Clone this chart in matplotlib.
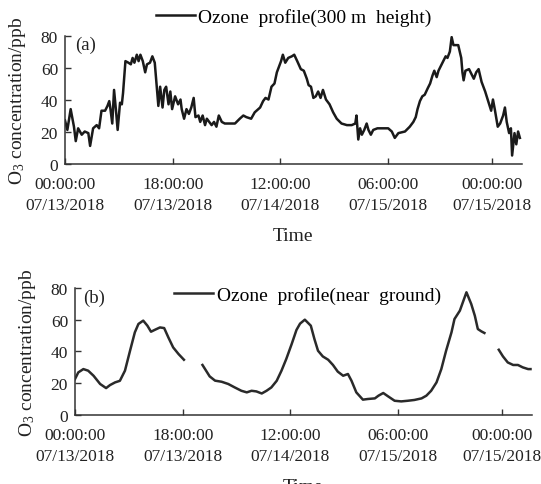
"""
Ozone profile comparison: 300 m height vs near ground, 07/13-07/16 2018.
"""
import numpy as np
import matplotlib

matplotlib.use("Agg")
import matplotlib.pyplot as plt

nan = np.nan

# (a) ozone at 300 m height, time in hours since 00:00 07/13/2018
hours_300m = [
    0.0, 0.4, 0.95, 1.5, 1.8, 2.2, 2.8, 3.3, 3.9, 4.2, 4.7, 5.3, 5.7, 6.1, 6.7,
    7.1, 7.4, 7.6, 7.9, 8.2, 8.5, 8.8, 9.2, 9.5, 9.7, 10.1, 10.6, 11.0, 11.3,
    11.6, 12.0, 12.3, 12.6, 13.0, 13.4, 13.7, 14.2, 14.6, 15.0, 15.4, 15.6,
    15.9, 16.3, 16.6, 16.9, 17.3, 17.6, 17.9, 18.4, 18.9, 19.3, 19.5, 19.9,
    20.3, 20.7, 21.1, 21.5, 21.8, 22.3, 22.6, 23.0, 23.4, 23.7, 24.1, 24.5,
    24.9, 25.3, 25.7, 26.2, 26.7, 27.5, 28.4, 29.2, 29.8, 30.3, 31.1, 31.7,
    32.6, 33.1, 33.5, 34.0, 34.5, 35.0, 35.4, 35.8, 36.1, 36.4, 36.8, 37.3,
    37.9, 38.3, 38.8, 39.4, 39.9, 40.4, 40.7, 41.1, 41.5, 41.9, 42.3, 42.7,
    43.1, 43.6, 44.2, 44.8, 45.4, 46.2, 47.1, 47.9, 48.5, 48.7, 49.0, 49.3,
    49.6, 50.0, 50.4, 50.7, 51.1, 51.5, 52.2, 53.1, 54.0, 54.6, 55.1, 55.7,
    56.8, 57.6, 58.2, 58.6, 58.9, 59.3, 59.7, 60.1, 60.6, 61.0, 61.4, 61.7,
    62.1, 62.4, 62.8, 63.2, 63.6, 63.9, 64.3, 64.6, 64.9, 65.7, 66.2, 66.4,
    66.6, 66.9, 67.5, 67.9, 68.3, 68.7, 69.1, 69.6, 70.2, 70.7, 71.2, 71.5,
    71.8, 72.3, 72.7, 73.2, 73.5, 73.8, 74.2, 74.5, 74.7, 75.1, 75.4, 75.7,
    76.0,
]
ozone_300m = [
    27, 21, 34, 23, 14, 22, 18, 20, 19, 11, 22, 24, 22, 33, 33,
    36, 39, 34, 25, 46, 34, 21, 38, 37, 44, 64, 63, 62, 66,
    63, 68, 64, 68, 64, 57, 62, 63, 67, 63, 45, 36,
    48, 35, 46, 48, 37, 45, 34, 42, 37, 40, 34, 28,
    34, 31, 35, 41, 29, 30, 26, 30, 24, 28, 26, 24,
    26, 23, 30, 26, 25, 25, 25, 28, 30, 29, 28, 32,
    35, 39, 41, 40, 48, 50, 57, 61, 64, 68, 63, 66,
    67, 68, 64, 59, 58, 53, 49, 48, 41, 42, 45, 41,
    46, 40, 37, 32, 28, 25, 24, 24, 25, 30, 15, 22,
    18, 21, 25, 21, 18, 21, 22, 22, 22, 20, 16, 19,
    20, 23, 26, 29, 34, 39, 42, 43, 47, 50, 55, 58,
    54, 58, 61, 64, 67, 66, 70, 79, 74, 74, 66, 57,
    52, 58, 59, 56, 53, 57, 59, 51, 45, 39, 33, 40,
    34, 23, 25, 30, 35, 26, 19, 22, 5, 19, 12, 20,
    16,
]

# (b) ozone near ground (nan marks missing data)
hours_ground = [
    0.0, 0.55, 1.4, 2.2, 3.1, 4.2, 5.2, 5.85, 6.7, 7.5, 8.35, 9.2, 10.0, 10.6,
    11.4, 12.1, 12.7, 13.4, 14.2, 14.9, 15.6, 16.4, 17.3, 18.2, 19.7,
    21.3, 22.0, 22.5, 23.4, 24.5, 25.6, 26.7, 27.8, 28.7, 29.5, 30.3, 31.2,
    32.0, 32.8, 33.7, 34.5, 35.3, 36.2, 37.0, 37.6, 38.4, 39.4, 40.0, 40.6,
    41.4, 42.3, 43.1, 43.9, 44.8, 45.6, 46.2, 47.0, 48.1, 48.9, 50.1, 50.7,
    51.5, 52.3, 53.4, 54.5, 55.6, 56.7, 57.9, 58.7, 59.5, 60.4, 61.2, 62.0,
    62.9, 63.4, 64.3, 65.4, 66.2, 66.8, 67.3, 67.9, 68.4, 69.6,
    70.8, 71.5, 72.3, 73.2, 74.0, 74.8, 75.7, 76.1,
]
ozone_ground = [
    22.5, 26.7, 28.8, 27.8, 24.6, 19.4, 16.8, 18.7, 20.4, 21.4, 27.8, 40.4, 52, 57.3,
    59.4, 56.2, 52.4, 53.7, 55.1, 54.7, 48.8, 42.5, 38.3, 34.7, nan,
    31.4, 27.2, 24.2, 21.5, 20.8, 19.4, 17.2, 15.1, 14.1, 15.1, 14.7, 13.4,
    15.1, 17.2, 21.4, 27.8, 35.2, 44.6, 53.5, 57.5, 60, 56.2, 47.8, 40.4,
    36.8, 34.7, 31.4, 27.2, 24.6, 25.7, 21.4, 14.1, 9.5, 9.9, 10.3, 12.0,
    13.7, 11.6, 8.8, 8.4, 8.8, 9.3, 10.3, 12.0, 15.1, 20.4, 28.8, 40.4,
    52, 60.4, 65.7, 77.3, 69.9, 62.5, 54.1, 52.6, 51.6, nan,
    41, 36.8, 33, 31.4, 31.4, 29.9, 28.8, 28.8,
]

tick_hours = [0, 18, 36, 54, 71.3]
tick_labels = [
    "00:00:00\n07/13/2018",
    "18:00:00\n07/13/2018",
    "12:00:00\n07/14/2018",
    "06:00:00\n07/15/2018",
    "00:00:00\n07/15/2018",
]
y_ticks = [0, 20, 40, 60, 80]

plt.rcParams["font.family"] = ["Liberation Serif", "DejaVu Serif"]
plt.rcParams["mathtext.fontset"] = "custom"
plt.rcParams["mathtext.rm"] = "Liberation Serif"
plt.rcParams["mathtext.it"] = "Liberation Serif:italic"

fig = plt.figure(figsize=(5.41, 4.85), dpi=100)
ax_a = fig.add_axes([0.1201, 0.6608, 0.8442, 0.2639])
ax_b = fig.add_axes([0.1386, 0.1429, 0.8442, 0.2612])


def style_axis(ax):
    for side in ("top", "right"):
        ax.spines[side].set_visible(False)
    for side in ("left", "bottom"):
        ax.spines[side].set_linewidth(1.1)
        ax.spines[side].set_color("#333333")
    ax.set_xlim(0, 76.3)
    ax.set_ylim(0, 80)
    ax.set_xticks(tick_hours)
    ax.set_xticklabels(tick_labels, linespacing=1.4)
    ax.set_yticks(y_ticks)
    ax.tick_params(direction="in", length=4, width=1.0, colors="#333333",
                   labelsize=12.5, labelcolor="#222222")
    ax.tick_params(axis="x", pad=9)
    ax.tick_params(axis="y", pad=5)
    ax.set_xlabel("Time", fontsize=14, color="#222222", labelpad=10)
    ax.set_ylabel(r"O$_3$ concentration/ppb", fontsize=14, color="#222222")
    ax.yaxis.set_label_coords(-0.082, 0.5)


ax_a.plot(hours_300m, ozone_300m, color="#1a1a1a", lw=1.8,
          label="Ozone  profile(300 m  height)")
style_axis(ax_a)
ax_a.text(0.022, 0.93, "(a)", transform=ax_a.transAxes, fontsize=13.5,
          va="center", ha="left", color="#222222")
ax_a.legend(loc="center", bbox_to_anchor=(0.543, 0.963),
            bbox_transform=fig.transFigure, frameon=False, fontsize=14,
            handlelength=2.0, handletextpad=0.2, borderpad=0)

ax_b.plot(hours_ground, ozone_ground, color="#2a2a2a", lw=1.8,
          label="Ozone  profile(near  ground)")
style_axis(ax_b)
ax_b.text(0.018, 0.93, "(b)", transform=ax_b.transAxes, fontsize=13.5,
          va="center", ha="left", color="#222222")
ax_b.legend(loc="center", bbox_to_anchor=(0.569, 0.39),
            bbox_transform=fig.transFigure, frameon=False, fontsize=14,
            handlelength=2.0, handletextpad=0.2, borderpad=0)

fig.savefig("out.png", dpi=100)
